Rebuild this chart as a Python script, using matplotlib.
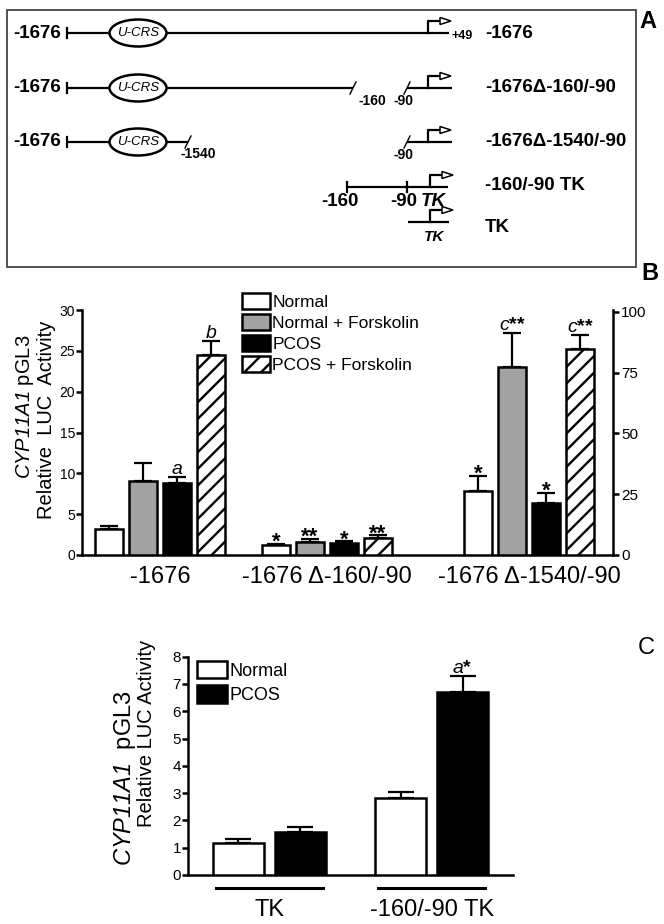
import matplotlib
matplotlib.use("Agg")
import matplotlib.pyplot as plt
from matplotlib.patches import Ellipse, Rectangle, Polygon

plt.rcParams["font.family"] = ["Liberation Sans", "DejaVu Sans"]
plt.rcParams["mathtext.fontset"] = "custom"
plt.rcParams["mathtext.rm"] = "Liberation Sans:italic"
plt.rcParams["mathtext.it"] = "Liberation Sans:italic"
plt.rcParams["hatch.linewidth"] = 1.7

# Panel B data (groups 1-2 on left axis, group 3 on right axis)
b_groups = ["-1676", "-1676 Δ-160/-90", "-1676 Δ-1540/-90"]
b_series = ["Normal", "Normal + Forskolin", "PCOS", "PCOS + Forskolin"]
normal = [3.2, 1.2, 26.3]
normal_err = [0.4, 0.2, 6.2]
normal_fsk = [9.05, 1.6, 77.5]
normal_fsk_err = [2.25, 0.4, 13.8]
pcos = [8.85, 1.5, 21.5]
pcos_err = [0.65, 0.2, 4.0]
pcos_fsk = [24.5, 2.1, 84.8]
pcos_fsk_err = [1.7, 0.3, 5.7]
normal_marks = ["", "*", "*"]
normal_fsk_marks = ["", "**", "$c$**"]
pcos_marks = ["$a$", "*", "*"]
pcos_fsk_marks = ["$b$", "**", "$c$**"]

# Panel C data
c_groups = ["TK", "-160/-90 TK"]
c_series = ["Normal", "PCOS"]
c_normal = [1.18, 2.81]
c_normal_err = [0.14, 0.24]
c_pcos = [1.59, 6.72]
c_pcos_err = [0.18, 0.57]
c_normal_marks = ["", ""]
c_pcos_marks = ["", "$a$*"]

fig = plt.figure(figsize=(6.64, 9.24), dpi=100)

# overlay in pixel coords for the diagram and free text
ov = fig.add_axes([0, 0, 1, 1])
ov.set_xlim(0, 664)
ov.set_ylim(924, 0)
ov.axis("off")

LW = 1.6


def seg(x0, x1, y):
    ov.plot([x0, x1], [y, y], color="k", lw=LW, solid_capstyle="butt")


def vtick(x, y, h=5):
    ov.plot([x, x], [y - h, y + h], color="k", lw=LW)


def brk(x, y):
    ov.plot([x - 3, x + 3], [y + 6, y - 6], color="k", lw=1.0)


def promoter(x, y):
    ov.plot([x, x, x + 12], [y, y - 12, y - 12], color="k", lw=LW)
    ov.add_patch(Polygon([[x + 12, y - 15.5], [x + 23, y - 12], [x + 12, y - 8.5]],
                         closed=True, fc="white", ec="k", lw=1.1, zorder=3))


def ucrs(y):
    ov.add_patch(Ellipse((138, y), 57, 27, fc="white", ec="k", lw=1.8, zorder=3))
    ov.text(138, y, "U-CRS", style="italic", fontsize=9.5, ha="center", va="center", zorder=4)


def rlabel(y, s):
    ov.text(485, y, s, fontsize=13.5, fontweight="bold", ha="left", va="center")


def small(x, y, s, size=10):
    ov.text(x, y, s, fontsize=size, fontweight="bold", ha="center", va="center")


ov.add_patch(Rectangle((7, 10), 629, 257, fill=False, ec="#444444", lw=1.3))

# row 1
r = 33
ov.text(61, r, "-1676", fontsize=13.5, fontweight="bold", ha="right", va="center")
vtick(67, r)
seg(67, 449, r)
ucrs(r)
promoter(428, r)
ov.text(452, r + 3, "+49", fontsize=9, fontweight="bold", ha="left", va="center")
rlabel(r, "-1676")

# row 2
r = 88
ov.text(61, r, "-1676", fontsize=13.5, fontweight="bold", ha="right", va="center")
vtick(67, r)
seg(67, 353, r)
brk(353, r)
ucrs(r)
small(372, r + 13, "-160")
seg(407, 452, r)
brk(407, r)
small(404, r + 13, "-90")
promoter(428, r)
rlabel(r, "-1676Δ-160/-90")

# row 3
r = 142
ov.text(61, r, "-1676", fontsize=13.5, fontweight="bold", ha="right", va="center")
vtick(67, r)
seg(67, 188, r)
brk(188, r)
ucrs(r)
small(198, r + 12, "-1540")
seg(407, 452, r)
brk(407, r)
small(404, r + 13, "-90")
promoter(428, r)
rlabel(r, "-1676Δ-1540/-90")

# row 4
r = 187
seg(347, 448, r)
vtick(347, r)
vtick(407, r)
promoter(430, r)
small(340, r + 14, "-160", 13.5)
small(404, r + 14, "-90", 13.5)
ov.text(433, r + 14, "TK", fontsize=13.5, fontweight="bold", style="italic", ha="center", va="center")
rlabel(r - 1, "-160/-90 TK")

# row 5
r = 222
seg(408, 449, r)
promoter(430, r)
ov.text(434, r + 15, "TK", fontsize=11, fontweight="bold", style="italic", ha="center", va="center")
rlabel(r + 5, "TK")

ov.text(648, 22, "A", fontsize=17, fontweight="bold", ha="center", va="center")
ov.text(650, 273, "B", fontsize=17, fontweight="bold", ha="center", va="center")
ov.text(646, 648, "C", fontsize=17, ha="center", va="center")

# ---------------- panel B ----------------
SP = 1.8
ax_b = fig.add_axes([82 / 664, 1 - 555 / 924, (613 - 82) / 664, (555 - 310) / 924])
ax_r = ax_b.twinx()
b_pos = [0, 1.0, 2.21]
bw = 0.168
step = 0.2036

b_data = [
    (normal, normal_err, normal_marks, dict(fc="white", hatch=None)),
    (normal_fsk, normal_fsk_err, normal_fsk_marks, dict(fc="#a2a2a2", hatch=None)),
    (pcos, pcos_err, pcos_marks, dict(fc="black", hatch=None)),
    (pcos_fsk, pcos_fsk_err, pcos_fsk_marks, dict(fc="white", hatch="//")),
]


def mark(ax, x, y, s):
    if s.startswith("*"):
        ax.annotate(s, (x, y), xytext=(0, -3), textcoords="offset points", ha="center",
                    va="baseline", fontsize=16, fontweight="bold")
    else:
        ax.annotate(s, (x, y), xytext=(0, 2.5), textcoords="offset points", ha="center",
                    va="baseline", fontsize=14, fontweight="bold")


handles = []
for k, (vals, errs, marks, st) in enumerate(b_data):
    off = (k - 1.5) * step
    for g in range(len(b_groups)):
        ax = ax_b if g < 2 else ax_r
        x = b_pos[g] + off
        bars = ax.bar(x, vals[g], bw, color=st["fc"], edgecolor="k", linewidth=SP,
                      hatch=st["hatch"], zorder=3)
        if g == 0:
            handles.append(bars)
        ax.errorbar(x, vals[g], yerr=[[0], [errs[g]]], fmt="none", ecolor="k",
                    elinewidth=1.6, capsize=6.5, capthick=1.6, zorder=2)
        if marks[g]:
            mark(ax, x, vals[g] + errs[g], marks[g])

ax_b.set_xlim(-0.467, 2.713)
ax_b.set_ylim(0, 30)
ax_b.set_yticks(range(0, 31, 5))
ax_r.set_ylim(0, 100.8)
ax_r.set_yticks([0, 25, 50, 75, 100])
ax_b.set_xticks(b_pos, b_groups, fontsize=17)
ax_b.tick_params(axis="x", length=0, pad=8)
ax_b.tick_params(axis="y", direction="out", length=4, width=SP, labelsize=10, pad=1)
ax_r.tick_params(axis="y", direction="out", length=4, width=SP, labelsize=11, pad=2)
for s in ["top", "right"]:
    ax_b.spines[s].set_visible(False)
for s in ["top", "left", "bottom"]:
    ax_r.spines[s].set_visible(False)
ax_b.spines["left"].set_linewidth(SP)
ax_b.spines["bottom"].set_linewidth(SP)
ax_r.spines["right"].set_linewidth(SP)

ax_b.legend(handles, b_series, loc="upper left", bbox_to_anchor=(242 / 664, 1 - 293 / 924),
            bbox_transform=fig.transFigure, frameon=False, fontsize=12.5,
            handlelength=1.6, handleheight=1.0, handletextpad=0.15, labelspacing=0.25,
            borderpad=0, borderaxespad=0)

ov.text(25, 407, "$CYP11A1$ pGL3", rotation=90, fontsize=14.5, ha="center", va="center")
ov.text(47, 420, "Relative  LUC  Activity", rotation=90, fontsize=14.5, ha="center", va="center")

# ---------------- panel C ----------------
ax_c = fig.add_axes([188 / 664, 1 - 875 / 924, (513 - 188) / 664, (875 - 656.7) / 924])
c_pos = [0, 1]
cw = 0.314
c_data = [
    (c_normal, c_normal_err, c_normal_marks, "white"),
    (c_pcos, c_pcos_err, c_pcos_marks, "black"),
]
c_handles = []
for k, (vals, errs, marks, fc) in enumerate(c_data):
    xs = [p + (k - 0.5) * 0.38 for p in c_pos]
    bars = ax_c.bar(xs, vals, cw, color=fc, edgecolor="k", linewidth=SP, zorder=3)
    c_handles.append(bars)
    ax_c.errorbar(xs, vals, yerr=[[0] * len(vals), errs], fmt="none", ecolor="k",
                  elinewidth=1.6, capsize=9.5, capthick=1.6, zorder=2)
    for x, v, e, m in zip(xs, vals, errs, marks):
        if m:
            mark(ax_c, x, v + e, m)

ax_c.set_xlim(-0.5, 1.5)
ax_c.set_ylim(0, 8)
ax_c.set_yticks(range(0, 9))
ax_c.set_xticks(c_pos, c_groups, fontsize=17)
ax_c.tick_params(axis="x", length=0, pad=17)
ax_c.tick_params(axis="y", direction="out", length=4, width=SP, labelsize=11, pad=1)
for s in ["top", "right"]:
    ax_c.spines[s].set_visible(False)
ax_c.spines["left"].set_linewidth(SP)
ax_c.spines["bottom"].set_linewidth(SP)
for p in c_pos:
    ax_c.plot([p - 0.33, p + 0.33], [-0.06, -0.06], transform=ax_c.get_xaxis_transform(),
              clip_on=False, color="k", lw=2.2)

ax_c.legend(c_handles, c_series, loc="upper left", bbox_to_anchor=(197 / 664, 1 - 661 / 924),
            bbox_transform=fig.transFigure, frameon=False, fontsize=13,
            handlelength=1.65, handleheight=1.1, handletextpad=0.15, labelspacing=0.3,
            borderpad=0, borderaxespad=0)

ov.text(125, 778, "$CYP11A1$  pGL3", rotation=90, fontsize=17, ha="center", va="center")
ov.text(147, 733, "Relative LUC Activity", rotation=90, fontsize=14.5, ha="center", va="center")

fig.savefig("out.png", dpi=100)
